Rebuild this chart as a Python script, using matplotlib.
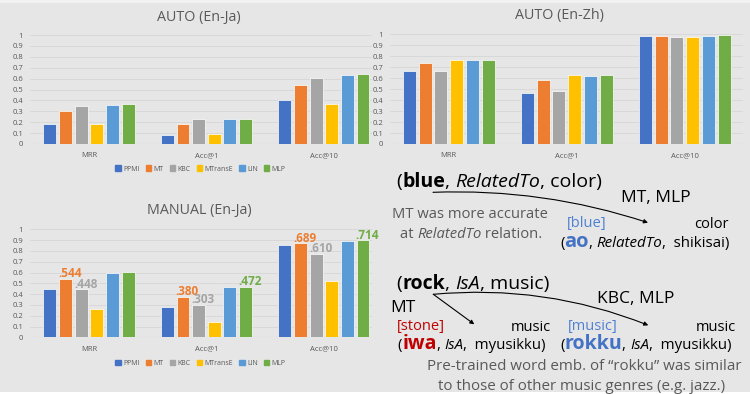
import matplotlib
matplotlib.use("Agg")
import matplotlib.pyplot as plt
from matplotlib.patches import Patch, Rectangle
import numpy as np

plt.rcParams['font.family'] = ['Open Sans', 'DejaVu Sans']

# data
categories = ['MRR', 'Acc@1', 'Acc@10']
methods = ['PPMI', 'MT', 'KBC', 'MTransE', 'LIN', 'MLP']
colors = ['#4472C4', '#ED7D31', '#A5A5A5', '#FFC000', '#5B9BD5', '#70AD47']

# rows = methods, cols = categories
auto_ja = [[0.18, 0.08, 0.40],
           [0.30, 0.18, 0.54],
           [0.35, 0.23, 0.61],
           [0.18, 0.095, 0.37],
           [0.36, 0.225, 0.63],
           [0.37, 0.23, 0.64]]
auto_zh = [[0.665, 0.465, 0.98],
           [0.74, 0.585, 0.98],
           [0.67, 0.48, 0.975],
           [0.765, 0.625, 0.975],
           [0.765, 0.62, 0.985],
           [0.77, 0.63, 0.99]]
manual_ja = [[0.447, 0.28, 0.858],
             [0.54, 0.375, 0.87],
             [0.445, 0.30, 0.772],
             [0.26, 0.145, 0.52],
             [0.60, 0.467, 0.895],
             [0.602, 0.467, 0.898]]
# value labels written on the MANUAL chart: (category, method, text)
manual_labels = [(0, 1, '.544'), (0, 2, '.448'),
                 (1, 1, '.380'), (1, 2, '.303'), (1, 5, '.472'),
                 (2, 1, '.689'), (2, 2, '.610'), (2, 5, '.714')]

W, H = 750, 394
BG = '#e6e6e6'
GRAY = '#595959'

fig = plt.figure(figsize=(W / 100, H / 100), dpi=100, facecolor=BG)


def box(l, t, r, b):
    return [l / W, 1 - b / H, (r - l) / W, (b - t) / H]


pitch = 0.133
width = 0.11


def bar_chart(rect, xlim, data, title, title_xy, legend_xy=None):
    ax = fig.add_axes(rect)
    ax.set_facecolor(BG)
    x = np.arange(len(categories))
    for i, m in enumerate(methods):
        ax.bar(x + (i - 2.5) * pitch, data[i], width, color=colors[i],
               edgecolor='white', linewidth=0.5, label=m, zorder=3)
    ax.set_xlim(*xlim)
    ax.set_ylim(0, 1)
    ax.set_yticks(np.arange(0, 1.01, 0.1))
    ax.set_yticklabels(['0'] + ['%.1f' % v for v in np.arange(0.1, 0.95, 0.1)] + ['1'])
    ax.set_xticks(x)
    ax.set_xticklabels(categories)
    ax.tick_params(length=0, labelsize=5.5, labelcolor=GRAY)
    ax.tick_params(axis='y', pad=5)
    ax.tick_params(axis='x', pad=6)
    for s in ax.spines.values():
        s.set_visible(False)
    ax.yaxis.grid(True, color='#d6d6d6', linewidth=0.6)
    ax.set_axisbelow(True)
    ax.axhline(0, color='#c8c8c8', linewidth=0.8, zorder=2)
    fig.text(title_xy[0] / W, 1 - title_xy[1] / H, title, ha='center',
             va='center', fontsize=10.3, color=GRAY)
    if legend_xy is not None:
        handles = [Patch(color=c, label=m) for c, m in zip(colors, methods)]
        ax.legend(handles=handles, ncol=6, loc='center', frameon=False,
                  bbox_to_anchor=(legend_xy[0] / W, 1 - legend_xy[1] / H),
                  bbox_transform=fig.transFigure, fontsize=5,
                  handlelength=0.8, handleheight=0.8, handletextpad=0.3,
                  columnspacing=0.9, labelcolor=GRAY)
    return ax


ax1 = bar_chart(box(30, 35, 372, 144), (-0.502, 2.409), auto_ja,
                'AUTO (En-Ja)', (199, 18), (200.5, 169))
ax2 = bar_chart(box(390, 34.3, 743, 144), (-0.498, 2.493), auto_zh,
                'AUTO (En-Zh)', (559, 16), None)
ax3 = bar_chart(box(30, 229.3, 372, 337.3), (-0.502, 2.409), manual_ja,
                'MANUAL (En-Ja)', (199, 210.5), (200.5, 363.3))

for c, m, txt in manual_labels:
    ax3.annotate(txt, xy=(c + (m - 2.5) * pitch - width / 2, manual_ja[m][c]),
                 xytext=(-0.5, 1.2), textcoords='offset points', ha='left',
                 va='baseline', fontsize=8.5, fontweight='bold',
                 color=colors[m], annotation_clip=False, zorder=5)

# overlay in pixel coordinates (top-down) for the right-hand notes
ov = fig.add_axes([0, 0, 1, 1])
ov.set_xlim(0, W)
ov.set_ylim(H, 0)
ov.axis('off')
ov.add_patch(Rectangle((0, 0), W, 3, color='#f2f2f2', lw=0))
ov.add_patch(Rectangle((0, H - 2), W, 2, color='white', lw=0))

renderer = fig.canvas.get_renderer()


def ink_w(s, **kw):
    t = ov.text(0, 0, s, **kw)
    w = t.get_window_extent(renderer).width
    t.remove()
    return w


def advance(s, **kw):
    # pen advance of s, measured against a reference glyph
    return ink_w(s + 'x', **kw) - ink_w('x', **kw)


def rich(x, y, parts, size=10, align='left', color='black'):
    # parts: (text, props) drawn one after another on the same baseline
    pieces = []
    total = 0
    for s, kw in parts:
        props = dict(fontsize=size, color=color)
        props.update(kw)
        adv = advance(s, **props)
        pieces.append((s, props, adv))
        total += adv
    if align == 'center':
        x = x - total / 2
    elif align == 'right':
        x = x - total
    for s, props, adv in pieces:
        if s.strip():
            ov.text(x, y, s, ha='left', va='baseline', **props)
        x += adv


B = dict(fontweight='bold')
I = dict(style='italic')
BLUE = '#4472C4'
LBLUE = '#4F81D3'
RED = '#C00000'

rich(396.7, 187.3, [('(', {}), ('blue', B), (', ', {}), ('RelatedTo', I),
                    (', color)', {})], size=14)
rich(620.7, 202, [('MT, MLP', {})], size=12.5)
rich(470, 218, [('MT was more accurate', {})], size=10.6, align='center', color=GRAY)
rich(471, 238, [('at ', {}), ('RelatedTo', I), (' relation.', {})], size=10.6,
     align='center', color=GRAY)
rich(567, 226.7, [('[blue]', {})], size=10.5, color=LBLUE)
rich(729, 228.3, [('color', {})], size=10.5, align='right')
rich(560, 247.3, [('(', {}), ('ao', dict(fontweight='bold', color=BLUE, fontsize=14.5)),
                  (', ', {}), ('RelatedTo', I), (',  shikisai)', {})], size=10.9)

rich(396.7, 289.3, [('(', {}), ('rock', B), (', ', {}), ('IsA', I),
                    (', music)', {})], size=14)
rich(390, 312, [('MT', {})], size=12.5)
rich(596.7, 303.3, [('KBC, MLP', {})], size=12.5)
rich(396.7, 330, [('[stone]', {})], size=10.5, color=RED)
rich(551, 330.7, [('music', {})], size=10.5, align='right')
rich(567.7, 330, [('[music]', {})], size=10.5, color=LBLUE)
rich(735.7, 330.7, [('music', {})], size=10.5, align='right')
rich(397.7, 349.3, [('(', {}), ('iwa', dict(fontweight='bold', color=RED, fontsize=14)),
                    (', ', {}), ('IsA', I), (',  myusikku)', {})], size=10.8)
rich(560, 349.3, [('(', {}), ('rokku', dict(fontweight='bold', color=BLUE, fontsize=14)),
                  (', ', {}), ('IsA', I), (',  myusikku)', {})], size=10.8)
rich(584.7, 370, [('Pre-trained word emb. of \u201crokku\u201d was similar', {})],
     size=10.9, align='center', color=GRAY)
rich(581.5, 390.5, [('to those of other music genres (e.g. jazz.)', {})],
     size=10.9, align='center', color=GRAY)

arrow = dict(arrowstyle='-|>', color='black', lw=0.8, mutation_scale=6,
             shrinkA=0, shrinkB=0)
ov.annotate('', xy=(648, 222.7), xytext=(433, 192.3),
            arrowprops=dict(connectionstyle='arc3,rad=-0.09', **arrow))
ov.annotate('', xy=(474.3, 324.3), xytext=(433.3, 294.3),
            arrowprops=dict(connectionstyle='arc3,rad=0', **arrow))
ov.annotate('', xy=(648.3, 325.3), xytext=(433.3, 294.3),
            arrowprops=dict(connectionstyle='arc3,rad=-0.12', **arrow))

fig.savefig('out.png', dpi=100, facecolor=BG)
